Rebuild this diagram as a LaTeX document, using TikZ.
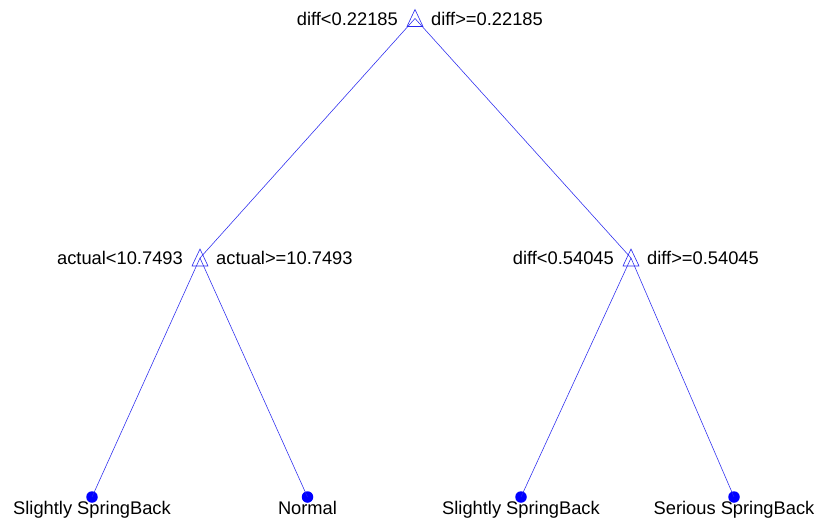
\documentclass[tikz,border=0pt]{standalone}
\usepackage{fontspec}
\setmainfont{Liberation Sans}
\definecolor{treeblue}{RGB}{40,40,240}
\tikzset{
  splitnode/.style={circle, inner sep=0pt, minimum size=0pt, draw=none},
  tri/.style={draw=treeblue, line width=0.6pt, line join=miter},
  leafnode/.style={circle, fill=blue, draw=none, minimum size=11.5pt, inner sep=0pt},
  edge/.style={draw=treeblue, line width=0.55pt},
  lbl/.style={inner sep=0pt, font=\fontsize{18.3}{21}\selectfont, text=black},
}
\begin{document}
\begin{tikzpicture}[x=1pt,y=-1pt]
\useasboundingbox (0,0) rectangle (821,525);
\fill[white] (0,0) rectangle (821,525);
% split nodes
\node[splitnode] (t) at (415,18.5) {};
\node[splitnode] (l) at (200,258) {};
\node[splitnode] (r) at (631,258) {};
% triangles
\foreach \n in {t,l,r}{
  \draw[tri] ([shift={(0,-9)}]\n.center) -- ([shift={(8,8)}]\n.center) -- ([shift={(-8,8)}]\n.center) -- cycle;
}
% leaves
\node[leafnode] (l1) at (92,497) {};
\node[leafnode] (l2) at (307.5,497) {};
\node[leafnode] (l3) at (521,497) {};
\node[leafnode] (l4) at (734,497) {};
% edges
\draw[edge] (t.center) -- (l.center);
\draw[edge] (t.center) -- (r.center);
\draw[edge] (l.center) -- (l1.center);
\draw[edge] (l.center) -- (l2.center);
\draw[edge] (r.center) -- (l3.center);
\draw[edge] (r.center) -- (l4.center);
% labels
\node[lbl, anchor=east] (tla) at ([xshift=-17pt]t.center) {diff<0.22185};
\node[lbl, anchor=west] (tlb) at ([xshift=16pt]t.center) {diff>=0.22185};
\node[lbl, anchor=east] (lla) at ([xshift=-17pt]l.center) {actual<10.7493};
\node[lbl, anchor=west] (llb) at ([xshift=16pt]l.center) {actual>=10.7493};
\node[lbl, anchor=east] (rla) at ([xshift=-17pt]r.center) {diff<0.54045};
\node[lbl, anchor=west] (rlb) at ([xshift=16pt]r.center) {diff>=0.54045};
\node[lbl, anchor=base] (s1) at ([yshift=-17.5pt]l1.center) {Slightly SpringBack};
\node[lbl, anchor=base] (s2) at ([yshift=-17.5pt]l2.center) {Normal};
\node[lbl, anchor=base] (s3) at ([yshift=-17.5pt]l3.center) {Slightly SpringBack};
\node[lbl, anchor=base] (s4) at ([yshift=-17.5pt]l4.center) {Serious SpringBack};
\end{tikzpicture}
\end{document}
